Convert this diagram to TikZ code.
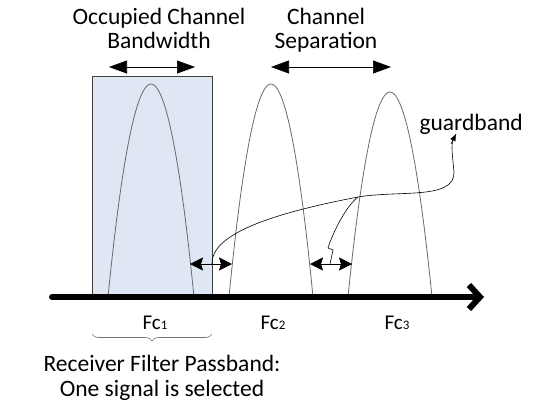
\documentclass[tikz,border=0pt]{standalone}
\usepackage{fontspec}
\setmainfont{Carlito}
\usetikzlibrary{arrows.meta,positioning,calc,decorations.pathreplacing}
\definecolor{passblue}{RGB}{222,231,243}
\definecolor{lobegray}{RGB}{105,105,105}
\tikzset{
  axisln/.style={-{Straight Barb[length=11pt,width=24pt]}, line width=6pt, line cap=round},
  lobe/.style={line width=0.8pt, lobegray},
  span/.style={{Triangle[length=18pt,width=13pt]}-{Triangle[length=18pt,width=13pt]}, line width=0.7pt},
  gap/.style={{Stealth[length=13pt,width=13pt,inset=2pt]}-{Stealth[length=13pt,width=13pt,inset=2pt]}, line width=0.7pt},
  lead/.style={line width=0.6pt},
  lbl/.style={font=\fontsize{23.5}{24}\selectfont, align=center},
  fclbl/.style={font=\fontsize{21}{22}\selectfont},
}
\newcommand{\fcsub}[1]{Fc{\fontsize{13}{13}\selectfont #1}}

\begin{document}
\begin{tikzpicture}[x=1pt,y=-1pt]
        \useasboundingbox (0,0) rectangle (536,405);
        % receiver passband
        \draw[fill=passblue, draw=black!75, line width=0.7pt] (92,76) rectangle (212,297);
        % signal lobes
        \draw[lobe] (108,297) parabola bend (151,84) (194,297);
        \draw[lobe] (229,297) parabola bend (271,84) (313,297);
        \draw[lobe] (348,297) parabola bend (390,92) (432,297);
        \draw[axisln] (52,297) -- (484,297);
        % labels above
        \node[lbl] (ocb) at (159,28) {Occupied Channel\\Bandwidth};
        \node[lbl] (sep) at (326,30) {Channel\\Separation};
        \coordinate (ocbL) at (109,67);
        \coordinate (ocbR) at (195,67);
        \coordinate (sepL) at (271,67);
        \coordinate (sepR) at (391,67);
        \draw[span] (ocbL) -- (ocbR);
        \draw[span] (sepL) -- (sepR);
        % guard bands
        \coordinate (g1L) at (190,264);
        \coordinate (g1R) at (232,264);
        \coordinate (g2L) at (310,264);
        \coordinate (g2R) at (352,264);
        \draw[gap] (g1L) -- (g1R);
        \draw[gap] (g2L) -- (g2R);
        \node[lbl, anchor=west] (gb) at (416,124) {guardband};
        \coordinate (g1M) at (212,264);
        \coordinate (g2M) at (330,264);
        \coordinate (jn) at (358,197);
        \coordinate (gbtip) at (456,134);
        \draw[lead] (g1M) .. controls (211,232) and (280,212) .. (jn)
          .. controls (400,190) and (455,200) .. (454,172)
          .. controls (452,150) and (450,142) .. (gbtip);
        \draw[lead, -{Latex[length=7pt,width=6pt]}] (451,144) -- (gbtip);
        \draw[lead] (jn) .. controls (345,207) and (332,235) .. (328,248)
          -- (333,250) -- (g2M);
        % centre frequencies
        \node[fclbl] (fc1) at (155,323) {\fcsub{1}};
        \node[fclbl] (fc2) at (273,323) {\fcsub{2}};
        \node[fclbl] (fc3) at (397,323) {\fcsub{3}};
        \draw[black!55, line width=0.6pt, decorate, decoration={brace, mirror, amplitude=7pt}]
          (92,334) -- (212,334);
        \node[lbl, font=\fontsize{23.5}{25}\selectfont] (rfp) at (162,378) {Receiver Filter Passband:\\One signal is selected};
      \end{tikzpicture}
\end{document}
